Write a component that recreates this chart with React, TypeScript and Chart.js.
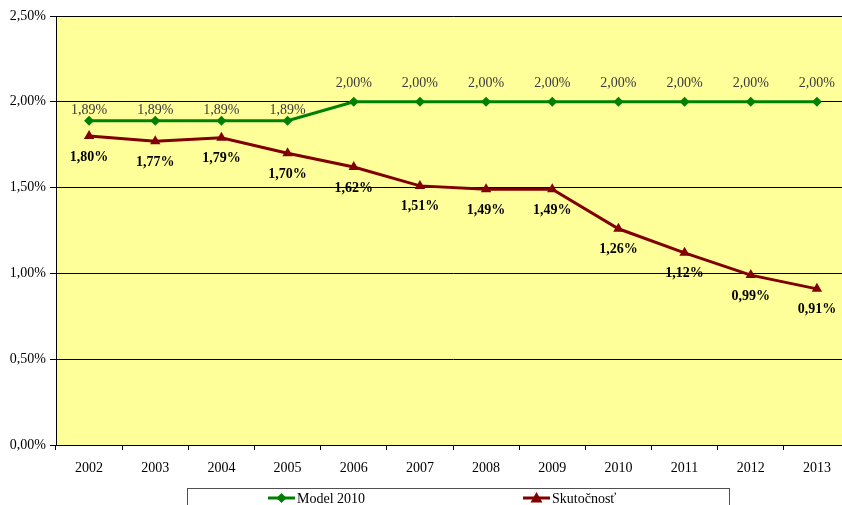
import React, { useEffect, useRef } from "react";
import { Chart, registerables } from "chart.js";

Chart.register(...registerables);

const years = ["2002", "2003", "2004", "2005", "2006", "2007", "2008", "2009", "2010", "2011", "2012", "2013"];
const modelValues = [1.89, 1.89, 1.89, 1.89, 2.0, 2.0, 2.0, 2.0, 2.0, 2.0, 2.0, 2.0];
const actualValues = [1.8, 1.77, 1.79, 1.7, 1.62, 1.51, 1.49, 1.49, 1.26, 1.12, 0.99, 0.91];
const seriesNames = ["Model 2010", "Skutočnosť"];

const FONT = "'Liberation Serif', 'DejaVu Serif', serif";
const fmt = (v: number) => v.toFixed(2).replace(".", ",") + "%";

const bgPlugin = {
  id: "bgPlugin",
  beforeDraw(chart: any) {
    const { ctx, chartArea } = chart;
    ctx.save();
    ctx.fillStyle = "#FFFF99";
    ctx.fillRect(chartArea.left, chartArea.top, chartArea.right - chartArea.left, chartArea.bottom - chartArea.top);
    ctx.strokeStyle = "#808080";
    ctx.lineWidth = 1;
    ctx.beginPath();
    ctx.moveTo(chartArea.left, chartArea.top + 0.5);
    ctx.lineTo(chartArea.right, chartArea.top + 0.5);
    ctx.stroke();
    ctx.restore();
  },
};

const labelPlugin = {
  id: "labelPlugin",
  afterDatasetsDraw(chart: any) {
    const { ctx } = chart;
    ctx.save();
    ctx.textAlign = "center";
    ctx.textBaseline = "middle";
    chart.data.datasets.forEach((ds: any, i: number) => {
      const meta = chart.getDatasetMeta(i);
      meta.data.forEach((pt: any, j: number) => {
        const v = ds.data[j];
        if (i === 0) {
          ctx.font = `14px ${FONT}`;
          ctx.fillStyle = "#3a3a3a";
          ctx.fillText(fmt(v), pt.x, pt.y - (v < 2 ? 10 : 18));
        } else {
          ctx.font = `bold 14px ${FONT}`;
          ctx.fillStyle = "#000";
          ctx.fillText(fmt(v), pt.x, pt.y + 21);
        }
      });
    });
    ctx.restore();
  },
};

function drawMarker(ctx: CanvasRenderingContext2D, style: string, x: number, y: number, r: number, color: string) {
  ctx.fillStyle = color;
  ctx.beginPath();
  if (style === "rectRot") {
    ctx.moveTo(x, y - r);
    ctx.lineTo(x + r, y);
    ctx.lineTo(x, y + r);
    ctx.lineTo(x - r, y);
  } else {
    ctx.moveTo(x, y - r);
    ctx.lineTo(x + r, y + r * 0.75);
    ctx.lineTo(x - r, y + r * 0.75);
  }
  ctx.closePath();
  ctx.fill();
}

const legendPlugin = {
  id: "legendPlugin",
  afterDraw(chart: any) {
    const { ctx } = chart;
    ctx.save();
    ctx.strokeStyle = "#505050";
    ctx.lineWidth = 1;
    ctx.strokeRect(187.5, 488.5, 542, 40);
    const items = [
      { x: 268, color: "#008000", style: "rectRot", r: 5, text: seriesNames[0] },
      { x: 523, color: "#800000", style: "triangle", r: 6, text: seriesNames[1] },
    ];
    const cy = 498;
    items.forEach((it) => {
      ctx.strokeStyle = it.color;
      ctx.lineWidth = 3;
      ctx.beginPath();
      ctx.moveTo(it.x, cy);
      ctx.lineTo(it.x + 27, cy);
      ctx.stroke();
      drawMarker(ctx, it.style, it.x + 13.5, cy, it.r, it.color);
      ctx.fillStyle = "#000";
      ctx.font = `14px ${FONT}`;
      ctx.textAlign = "left";
      ctx.textBaseline = "middle";
      ctx.fillText(it.text, it.x + 29, cy + 1);
    });
    ctx.restore();
  },
};

export default function App() {
  const ref = useRef<HTMLCanvasElement | null>(null);
  useEffect(() => {
    if (!ref.current) return;
    const chart = new Chart(ref.current, {
      type: "line",
      data: {
        labels: years,
        datasets: [
          {
            label: seriesNames[0],
            data: modelValues,
            borderColor: "#008000",
            backgroundColor: "#008000",
            borderWidth: 3,
            pointStyle: "rectRot",
            pointRadius: 5,
            pointBorderWidth: 0,
            tension: 0,
          },
          {
            label: seriesNames[1],
            data: actualValues,
            borderColor: "#800000",
            backgroundColor: "#800000",
            borderWidth: 3,
            pointStyle: "triangle",
            pointRadius: 6,
            pointBorderWidth: 0,
            tension: 0,
          },
        ],
      },
      options: {
        responsive: false,
        animation: false,
        devicePixelRatio: 1,
        layout: { padding: { top: 16, right: 10, bottom: 20, left: 0 } },
        plugins: { legend: { display: false }, tooltip: { enabled: false } },
        scales: {
          x: {
            type: "category",
            offset: true,
            grid: { offset: true, drawOnChartArea: false, tickLength: 5, color: "#000" },
            border: { color: "#000" },
            ticks: { font: { family: FONT, size: 14 }, color: "#000", padding: 10, maxRotation: 0 },
            afterFit: (s: any) => {
              s.height = 40;
            },
          },
          y: {
            min: 0,
            max: 2.5,
            ticks: {
              stepSize: 0.5,
              font: { family: FONT, size: 14 },
              color: "#000",
              padding: 4,
              callback: (v: any) => fmt(Number(v)),
            },
            grid: { color: "#000", tickLength: 6, lineWidth: 1 },
            border: { color: "#000" },
            afterFit: (s: any) => {
              s.width = 56;
            },
          },
        },
      },
      plugins: [bgPlugin, labelPlugin, legendPlugin],
    } as any);
    return () => chart.destroy();
  }, []);
  return (
    <div style={{ position: "fixed", left: 0, top: 0, width: 842, height: 505, overflow: "hidden", background: "#fff" }}>
      <canvas ref={ref} width={860} height={505} style={{ width: 860, height: 505, display: "block" }} />
    </div>
  );
}
